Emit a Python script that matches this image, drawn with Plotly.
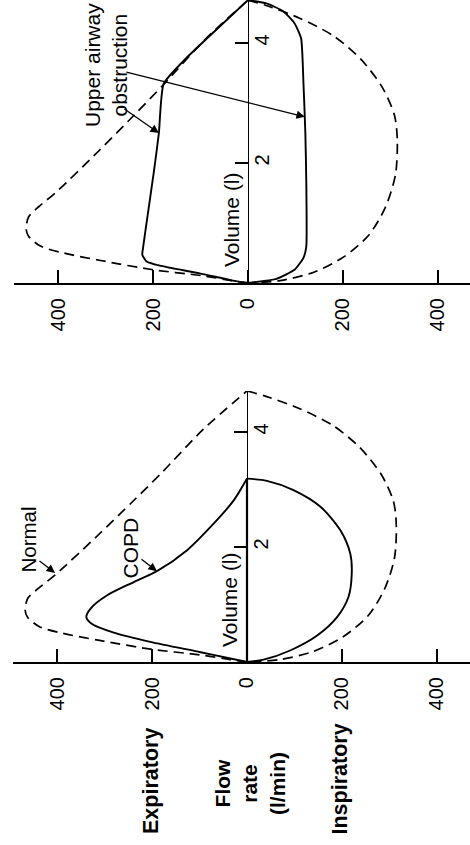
import plotly.graph_objects as go

# ---------------- data (flow l/min: expiratory < 0 drawn left, inspiratory > 0 right; volume l) -------------
normal_exp_flow = [0, -34, -100, -200, -311, -389, -438, -463, -468, -463, -441, -404, -315, -240, -179, -93, 0]
normal_exp_vol = [0, 0.04, 0.125, 0.22, 0.375, 0.50, 0.615, 0.78, 0.90, 1.10, 1.275, 1.52, 2.20, 2.80, 3.30, 4.04, 4.715]
normal_ins_flow = [0, 40, 110, 181, 238, 283, 309, 315, 311, 290, 255, 202, 139, 68, 0]
normal_ins_vol = [4.715, 4.62, 4.41, 4.115, 3.73, 3.265, 2.795, 2.37, 1.80, 1.265, 0.80, 0.435, 0.18, 0.04, 0]

copd_exp_flow = [0, -35, -98, -204, -281, -327, -339, -330, -295, -239, -190, -127, -70, -28, 0]
copd_exp_vol = [0, 0.06, 0.17, 0.35, 0.51, 0.66, 0.78, 0.93, 1.16, 1.39, 1.58, 1.94, 2.41, 2.81, 3.19]
copd_ins_flow = [0, 42, 98, 155, 197, 218, 221, 214, 190, 148, 91, 35, 0]
copd_ins_vol = [3.19, 3.15, 2.99, 2.70, 2.29, 1.88, 1.54, 1.13, 0.78, 0.46, 0.20, 0.04, 0]

uao_exp_flow = [0, -32, -102, -186, -214, -223, -221, -211, -199, -188, -178, -130, -67, 0]
uao_exp_vol = [0, 0.04, 0.16, 0.29, 0.36, 0.47, 0.61, 1.17, 1.83, 2.50, 3.32, 3.75, 4.22, 4.715]
uao_ins_flow = [0, 39, 74, 98, 112, 117, 121, 123, 123, 117, 98, 60, 0]
uao_ins_vol = [4.715, 4.66, 4.53, 4.33, 4.08, 3.33, 2.50, 1.67, 0.61, 0.42, 0.22, 0.07, 0]

flow_ticks = [-400, -200, 0, 200, 400]
flow_ticktext = ["400", "200", "0", "200", "400"]
vol_ticks = [2, 4]
vol_ticktext = ["2", "4"]

# ---------------- layout helpers ----------------
W, H = 470, 845
FONT = "Liberation Sans, Arial, Helvetica, sans-serif"
PXF = 0.474  # pixels per l/min


def px(x):
    return x / W


def py(y):
    return 1 - y / H


fig = go.Figure()

dash_style = dict(color="black", width=1.7, dash="10px,6px")
solid_style = dict(color="black", width=1.9)

# top panel (upper airway obstruction)
for fx, vy, st, sm in [
    (normal_exp_flow, normal_exp_vol, dash_style, 0.8),
    (normal_ins_flow, normal_ins_vol, dash_style, 0.8),
    (uao_exp_flow, uao_exp_vol, solid_style, 0.5),
    (uao_ins_flow, uao_ins_vol, solid_style, 0.5),
]:
    fig.add_trace(go.Scatter(x=fx, y=vy, mode="lines", line=dict(shape="spline", smoothing=sm, **st),
                             xaxis="x", yaxis="y", cliponaxis=False, showlegend=False, hoverinfo="skip"))

# bottom panel (COPD / normal)
for fx, vy, st in [
    (normal_exp_flow, normal_exp_vol, dash_style),
    (normal_ins_flow, normal_ins_vol, dash_style),
    (copd_exp_flow, copd_exp_vol, solid_style),
    (copd_ins_flow, copd_ins_vol, solid_style),
]:
    fig.add_trace(go.Scatter(x=fx, y=vy, mode="lines", line=dict(shape="spline", smoothing=0.8, **st),
                             xaxis="x2", yaxis="y2", cliponaxis=False, showlegend=False, hoverinfo="skip"))
# thicker part of the volume axis inside the COPD loop
fig.add_trace(go.Scatter(x=[0, 0], y=[0, copd_exp_vol[-1]], mode="lines", line=dict(color="black", width=2.2),
                         xaxis="x2", yaxis="y2", cliponaxis=False, showlegend=False, hoverinfo="skip"))

top_origin_px, top_vol_px, top_axis_y = 248, 60.0, 283
bot_origin_px, bot_vol_px, bot_axis_y, bot_top_y = 247, 57.5, 662, 391

common_x = dict(tickvals=flow_ticks, ticktext=flow_ticktext, tickangle=-90, ticks="inside", ticklen=13,
                tickwidth=2, tickcolor="black", showline=True, linecolor="black", linewidth=2.2,
                showgrid=False, zeroline=False, tickfont=dict(family=FONT, size=20, color="black"),
                ticklabelstandoff=5)
common_y = dict(tickvals=vol_ticks, ticktext=vol_ticktext, tickangle=-90, ticks="inside", ticklen=13,
                tickwidth=1.5, tickcolor="black", showline=True, linecolor="black", linewidth=1.3,
                showgrid=False, zeroline=False, side="right", anchor="free", ticklabelstandoff=-4,
                tickfont=dict(family=FONT, size=20, color="black"))

fig.update_layout(
    width=W, height=H, margin=dict(l=0, r=0, t=0, b=0),
    paper_bgcolor="white", plot_bgcolor="white", showlegend=False,
    xaxis=dict(domain=[14 / W, 1], range=[(14 - top_origin_px) / PXF, (W - top_origin_px) / PXF],
               anchor="y", **common_x),
    yaxis=dict(domain=[py(top_axis_y), 1], range=[0, top_axis_y / top_vol_px],
               position=top_origin_px / W, **common_y),
    xaxis2=dict(domain=[13 / W, 1], range=[(13 - bot_origin_px) / PXF, (W - bot_origin_px) / PXF],
                anchor="y2", **common_x),
    yaxis2=dict(domain=[py(bot_axis_y), py(bot_top_y)],
                range=[0, (bot_axis_y - bot_top_y) / bot_vol_px],
                position=bot_origin_px / W, **common_y),
)

annots = []


def text(x, y, s, size=21, bold=False):
    annots.append(dict(x=px(x), y=py(y), xref="paper", yref="paper", text=(f"<b>{s}</b>" if bold else s),
                       showarrow=False, textangle=-90, xanchor="center", yanchor="middle", align="center",
                       font=dict(family=FONT, size=size, color="black")))


def arrow(xr, yr, hx, hy, ax, ay):
    annots.append(dict(x=hx, y=hy, xref=xr, yref=yr, ax=ax, ay=ay, text="", showarrow=True,
                       arrowhead=2, arrowsize=1.3, arrowwidth=1.3, arrowcolor="black"))


text(106, 65, "Upper airway<br>obstruction", size=21)
text(231, 220, "Volume (l)", size=21)
text(229, 600, "Volume (l)", size=21)
text(27.5, 540, "Normal", size=20.5)
text(129.5, 548, "COPD", size=21)
text(151, 781, "Expiratory", size=21.5, bold=True)
text(250, 784, "Flow<br>rate<br>(l/min)", size=21, bold=True)
text(339.5, 779, "Inspiratory", size=21.5, bold=True)

arrow("x", "y", -188, 2.5, -36, -25)
arrow("x", "y", 120, 2.77, -180, -45)
arrow("x2", "y2", -405, 1.55, -17, -13)
arrow("x2", "y2", -190, 1.58, -17, -13)

fig.update_layout(annotations=annots)

fig.write_html("out.html")
